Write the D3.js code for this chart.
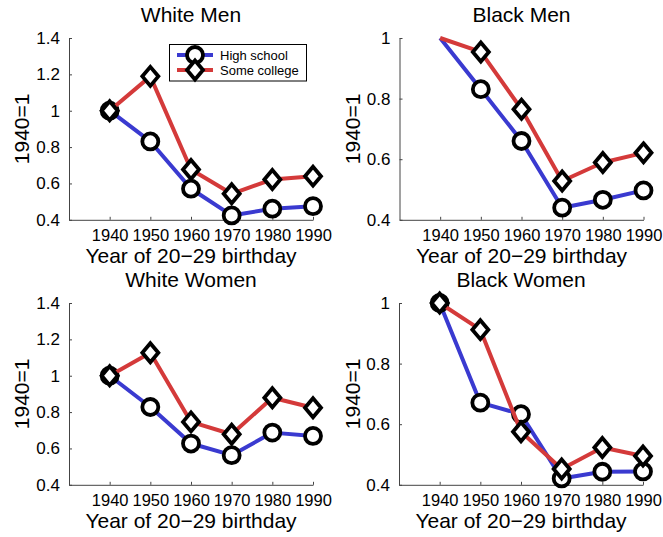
<!DOCTYPE html>
<html><head><meta charset="utf-8">
<script src="https://cdn.jsdelivr.net/npm/d3@7"></script>
<style>body{margin:0;background:#fff}svg{display:block;font-family:"Liberation Sans",Arial,sans-serif}</style>
</head><body><svg id="c" width="663" height="537"></svg>
<script>
const years = [1940, 1950, 1960, 1970, 1980, 1990];
const panelTitles = ["White Men", "Black Men", "White Women", "Black Women"];
const seriesNames = ["High school", "Some college"];
const yTicksWhite = [0.4, 0.6, 0.8, 1, 1.2, 1.4];
const yTicksBlack = [0.4, 0.6, 0.8, 1];
const whiteMenHS = [1.0, 0.831, 0.571, 0.424, 0.461, 0.475];
const whiteMenSC = [1.0, 1.189, 0.677, 0.543, 0.622, 0.640];
const blackMenHS = [1.0, 0.831, 0.660, 0.440, 0.466, 0.497];
const blackMenSC = [1.0, 0.954, 0.765, 0.528, 0.589, 0.621];
const whiteWomenHS = [1.0, 0.828, 0.627, 0.563, 0.687, 0.669];
const whiteWomenSC = [1.0, 1.126, 0.746, 0.678, 0.879, 0.824];
const blackWomenHS = [1.0, 0.671, 0.633, 0.421, 0.443, 0.444];
const blackWomenSC = [1.0, 0.912, 0.575, 0.452, 0.523, 0.495];

const BLUE = "#3a3ad0", RED = "#d43a3a";
const svg = d3.select("#c");

const panels = [
  {title: panelTitles[0], hs: whiteMenHS, sc: whiteMenSC, ticks: yTicksWhite, x0: 69, top: 38, legend: true, firstMarker: true},
  {title: panelTitles[1], hs: blackMenHS, sc: blackMenSC, ticks: yTicksBlack, x0: 399.5, top: 38, legend: false, firstMarker: false},
  {title: panelTitles[2], hs: whiteWomenHS, sc: whiteWomenSC, ticks: yTicksWhite, x0: 69, top: 303, legend: false, firstMarker: true},
  {title: panelTitles[3], hs: blackWomenHS, sc: blackWomenSC, ticks: yTicksBlack, x0: 399, top: 303, legend: false, firstMarker: true}
];
const W = 244, H = 181.8;

function circleMarker(g, x, y) {
  g.append("circle").attr("cx", x).attr("cy", y).attr("r", 8)
    .attr("fill", "#fff").attr("stroke", "#000").attr("stroke-width", 3.8);
}
function diamondMarker(g, x, y) {
  g.append("path").attr("d", `M${x},${y-9.5}L${x+8},${y}L${x},${y+9.5}L${x-8},${y}Z`)
    .attr("fill", "#fff").attr("stroke", "#000").attr("stroke-width", 3.8).attr("stroke-linejoin", "miter");
}

panels.forEach(p => {
  const g = svg.append("g").attr("transform", `translate(${p.x0},${p.top})`);
  const x = d3.scaleLinear().domain([1930, 1990]).range([0, W]);
  const ymin = p.ticks[0], ymax = p.ticks[p.ticks.length - 1];
  const y = d3.scaleLinear().domain([ymin, ymax]).range([H, 0]);

  const xa = g.append("g").attr("transform", `translate(0,${H})`)
    .call(d3.axisBottom(x).tickValues(years).tickSizeInner(-3).tickSizeOuter(0).tickPadding(11).tickFormat(d3.format("d")));
  const ya = g.append("g")
    .call(d3.axisLeft(y).tickValues(p.ticks).tickSizeInner(-3).tickSizeOuter(0).tickPadding(9).tickFormat(d => String(d)));
  [xa, ya].forEach(a => {
    a.attr("font-family", null).attr("font-size", null);
    a.select(".domain").attr("stroke", "#444").attr("stroke-width", 1);
    a.selectAll(".tick line").attr("stroke", "#444");
    a.selectAll("text").style("font-size", "16.5px").attr("fill", "#000");
  });
  ya.selectAll("text").style("font-size", "17px");
  xa.selectAll("text").attr("dy", "0.6em");

  g.append("text").attr("x", W / 2).attr("y", -16).attr("text-anchor", "middle")
    .style("font-size", "21px").text(p.title);
  g.append("text").attr("x", W / 2).attr("y", H + 43).attr("text-anchor", "middle")
    .style("font-size", "21px").text("Year of 20\u221229 birthday");
  const ylx = (p.x0 > 200 ? 352.5 : 21.5) - p.x0 + 7.5;
  g.append("text").attr("transform", `translate(${ylx},${H / 2}) rotate(-90)`)
    .attr("text-anchor", "middle").style("font-size", "21px").text("1940=1");

  const line = d3.line().x((d, i) => x(years[i])).y(d => y(d));
  [[p.hs, BLUE, circleMarker], [p.sc, RED, diamondMarker]].forEach(([vals, col, mk]) => {
    g.append("path").attr("d", line(vals)).attr("fill", "none").attr("stroke", col)
      .attr("stroke-width", 4).attr("stroke-linejoin", "round");
    vals.forEach((v, i) => {
      if (i === 0 && !p.firstMarker) return;
      mk(g, x(years[i]), y(v));
    });
  });

  if (p.legend) {
    const lg = svg.append("g");
    lg.append("rect").attr("x", 169.5).attr("y", 44.5).attr("width", 137).attr("height", 36.5)
      .attr("fill", "#fff").attr("stroke", "#000").attr("stroke-width", 1);
    [[BLUE, circleMarker, 55], [RED, diamondMarker, 70]].forEach(([col, mk, ly], i) => {
      lg.append("line").attr("x1", 177).attr("x2", 213).attr("y1", ly).attr("y2", ly)
        .attr("stroke", col).attr("stroke-width", 4);
      mk(lg, 195, ly);
      lg.append("text").attr("x", 220).attr("y", ly + 4.6).style("font-size", "13px").text(seriesNames[i]);
    });
  }
});
</script></body></html>
